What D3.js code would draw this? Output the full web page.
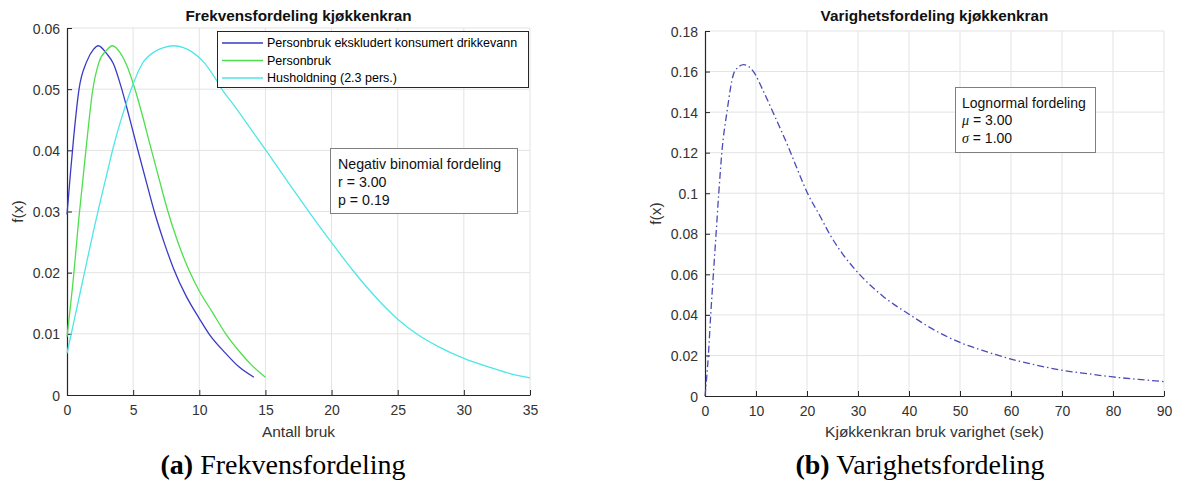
<!DOCTYPE html>
<html>
<head>
<meta charset="utf-8">
<script src="https://cdn.jsdelivr.net/npm/d3@7"></script>
<style>
  html, body { margin: 0; padding: 0; background: #fff; }
  svg { display: block; }
  text { font-family: "Liberation Sans", Arial, sans-serif; }
</style>
</head>
<body>
<svg id="chart" width="1179" height="483"></svg>
<script>
// ---------- Data ----------
// Left panel: Frekvensfordeling kjøkkenkran
const freqTitle = "Frekvensfordeling kjøkkenkran";
const freqXLabel = "Antall bruk";
const freqXTicks = [0, 5, 10, 15, 20, 25, 30, 35];
const freqYTicks = [0, 0.01, 0.02, 0.03, 0.04, 0.05, 0.06];
const freqSeriesNames = ["Personbruk ekskludert konsumert drikkevann", "Personbruk", "Husholdning (2.3 pers.)"];

const personbrukEkskl = [
  [0, 0.0295], [0.25, 0.036], [0.5, 0.042], [0.91, 0.05], [1.49, 0.0545], [2.0, 0.0565],
  [2.37, 0.0571], [3.0, 0.0558], [3.5, 0.0542], [4.14, 0.05], [4.7, 0.0455], [5.3, 0.0405],
  [6.0, 0.0348], [6.6, 0.03], [7.3, 0.0252], [8.05, 0.0207], [9.0, 0.0162], [10.0, 0.0125],
  [10.73, 0.01], [12.0, 0.0068], [13.0, 0.0046], [14.13, 0.0029]
];
const personbruk = [
  [0, 0.0095], [0.5, 0.0195], [0.9, 0.029], [1.5, 0.0415], [1.92, 0.0495], [2.4, 0.0543],
  [3.0, 0.0564], [3.43, 0.0571], [4.0, 0.056], [4.5, 0.054], [5.15, 0.0499], [5.7, 0.0457],
  [6.29, 0.0408], [7.0, 0.035], [7.63, 0.03], [8.3, 0.0255], [9.2, 0.0205], [10.0, 0.017],
  [11.0, 0.0135], [12.0, 0.01], [13.0, 0.0072], [14.0, 0.0048], [15.0, 0.0029]
];
const husholdning = [
  [0, 0.0068], [0.5, 0.0118], [1.0, 0.0168], [1.5, 0.0218], [2.0, 0.0268], [2.5, 0.0315],
  [3.0, 0.036], [3.5, 0.0405], [4.2, 0.0458], [4.85, 0.05], [5.7, 0.0542], [6.67, 0.0562],
  [7.3, 0.0568], [8.06, 0.0571], [8.8, 0.0568], [9.44, 0.0561], [10.3, 0.0545], [11.2, 0.0518],
  [11.7, 0.05], [12.5, 0.0477], [13.5, 0.0447], [15.0, 0.0401], [16.0, 0.037], [17.0, 0.0339],
  [18.4, 0.0296], [20.0, 0.0249], [21.6, 0.0204], [23.0, 0.0168], [25.0, 0.0124], [26.5, 0.0099],
  [28.0, 0.008], [30.0, 0.006], [32.0, 0.0045], [33.5, 0.0035], [35.0, 0.0028]
];
const freqBoxLines = ["Negativ binomial fordeling", "r = 3.00", "p = 0.19"];

// Right panel: Varighetsfordeling kjøkkenkran
const durTitle = "Varighetsfordeling kjøkkenkran";
const durXLabel = "Kjøkkenkran bruk varighet (sek)";
const durXTicks = [0, 10, 20, 30, 40, 50, 60, 70, 80, 90];
const durYTicks = [0, 0.02, 0.04, 0.06, 0.08, 0.1, 0.12, 0.14, 0.16, 0.18];
const lognormal = [
  [0, 0], [0.66, 0.02], [1.12, 0.04], [1.64, 0.06], [2.17, 0.08], [2.7, 0.1], [3.3, 0.12],
  [4.3, 0.14], [5.8, 0.16], [7.57, 0.1634], [9.5, 0.16], [11.5, 0.15], [13.5, 0.139],
  [16.8, 0.12], [18.4, 0.11], [20.1, 0.1], [22.5, 0.089], [24.4, 0.08], [27.0, 0.07],
  [30.3, 0.06], [35.0, 0.049], [40.2, 0.04], [45.0, 0.0325], [50.0, 0.0264], [55.0, 0.022],
  [60.0, 0.0182], [65.0, 0.0152], [70.0, 0.0127], [75.0, 0.011], [80.0, 0.0094],
  [85.0, 0.0082], [90.0, 0.0071]
];
const durBoxLines = [["", "Lognormal fordeling"], ["μ", " = 3.00"], ["σ", " = 1.00"]];

const captions = [["(a)", " Frekvensfordeling"], ["(b)", " Varighetsfordeling"]];

// ---------- Drawing ----------
const svg = d3.select("#chart");
const axisColor = "#262626";
const gridColor = "#e3e3e3";
const fmt = d => d === 0 ? "0" : String(+d.toFixed(2));

function panel(opt) {
  const x = d3.scaleLinear().domain(opt.xDomain).range([opt.left, opt.right]);
  const y = d3.scaleLinear().domain(opt.yDomain).range([opt.bottom, opt.top]);
  const g = svg.append("g");

  // grid
  g.append("g").selectAll("line").data(opt.xTicks.filter(d => d !== opt.xDomain[0])).join("line")
    .attr("x1", d => x(d)).attr("x2", d => x(d)).attr("y1", opt.top).attr("y2", opt.bottom)
    .attr("stroke", gridColor).attr("stroke-width", 1);
  g.append("g").selectAll("line").data(opt.yTicks.filter(d => d !== opt.yDomain[0])).join("line")
    .attr("x1", opt.left).attr("x2", opt.right).attr("y1", d => y(d)).attr("y2", d => y(d))
    .attr("stroke", gridColor).attr("stroke-width", 1);

  // axes
  const xAxis = d3.axisBottom(x).tickValues(opt.xTicks).tickFormat(fmt).tickSizeInner(-5).tickSizeOuter(0).tickPadding(10);
  const yAxis = d3.axisLeft(y).tickValues(opt.yTicks).tickFormat(fmt).tickSizeInner(-5).tickSizeOuter(0).tickPadding(7);
  const gx = g.append("g").attr("transform", `translate(0,${opt.bottom})`).call(xAxis);
  const gy = g.append("g").attr("transform", `translate(${opt.left},0)`).call(yAxis);
  [gx, gy].forEach(a => {
    a.selectAll("path, line").attr("stroke", axisColor);
    a.select("path.domain").attr("stroke-width", 1.2);
    a.selectAll("text").attr("fill", "#333").style("font-size", "14px")
      .style("font-family", '"Liberation Sans", Arial, sans-serif');
  });
  gy.selectAll(".tick text").attr("dy", "0.36em");

  // labels
  const cx = (opt.left + opt.right) / 2;
  g.append("text").attr("x", cx).attr("y", 20.5).attr("text-anchor", "middle")
    .style("font-size", "15.3px").style("font-weight", "bold").attr("fill", "#111").text(opt.title);
  g.append("text").attr("x", cx).attr("y", 437).attr("text-anchor", "middle")
    .style("font-size", "15.5px").attr("fill", "#333").text(opt.xLabel);
  g.append("text").attr("transform", `translate(${opt.left - 44},${(opt.top + opt.bottom) / 2}) rotate(-90)`)
    .attr("text-anchor", "middle").style("font-size", "15.5px").attr("fill", "#333").text("f(x)");

  return { x, y, g, cx };
}

// Left panel
const P1 = panel({
  left: 67, right: 530, top: 28, bottom: 395,
  xDomain: [0, 35], yDomain: [0, 0.06],
  xTicks: freqXTicks, yTicks: freqYTicks,
  title: freqTitle, xLabel: freqXLabel
});
const line1 = d3.line().curve(d3.curveMonotoneX).x(d => P1.x(d[0])).y(d => P1.y(d[1]));
const freqColors = ["#3a3ac6", "#4ddf4d", "#4fe6e6"];
[personbrukEkskl, personbruk, husholdning].forEach((s, i) => {
  P1.g.append("path").datum(s).attr("d", line1).attr("fill", "none")
    .attr("stroke", freqColors[i]).attr("stroke-width", 1.3);
});

// legend
const leg = P1.g.append("g");
leg.append("rect").attr("x", 217.5).attr("y", 31.5).attr("width", 311).attr("height", 56)
  .attr("fill", "#fff").attr("stroke", "#262626").attr("stroke-width", 1);
freqSeriesNames.forEach((n, i) => {
  const yy = 43 + i * 17.5;
  leg.append("line").attr("x1", 222).attr("x2", 263).attr("y1", yy).attr("y2", yy)
    .attr("stroke", freqColors[i]).attr("stroke-width", 1.3);
  leg.append("text").attr("x", 267).attr("y", yy).attr("dy", "0.35em")
    .style("font-size", "12.5px").attr("fill", "#000").text(n);
});

// annotation box
const ab = P1.g.append("g");
ab.append("rect").attr("x", 330.5).attr("y", 148.5).attr("width", 187).attr("height", 65)
  .attr("fill", "#fff").attr("stroke", "#7f7f7f").attr("stroke-width", 1);
freqBoxLines.forEach((t, i) => {
  ab.append("text").attr("x", 338).attr("y", 164 + i * 18).attr("dy", "0.35em")
    .style("font-size", "14.2px").attr("fill", "#111").text(t);
});

// Right panel
const P2 = panel({
  left: 705, right: 1164, top: 31, bottom: 396,
  xDomain: [0, 90], yDomain: [0, 0.18],
  xTicks: durXTicks, yTicks: durYTicks,
  title: durTitle, xLabel: durXLabel
});
const line2 = d3.line().curve(d3.curveMonotoneX).x(d => P2.x(d[0])).y(d => P2.y(d[1]));
P2.g.append("path").datum(lognormal).attr("d", line2).attr("fill", "none")
  .attr("stroke", "#4a4ab8").attr("stroke-width", 1.3).attr("stroke-dasharray", "7,3,1.5,3");

const ab2 = P2.g.append("g");
ab2.append("rect").attr("x", 955.5).attr("y", 87.5).attr("width", 140).attr("height", 65)
  .attr("fill", "#fff").attr("stroke", "#7f7f7f").attr("stroke-width", 1);
durBoxLines.forEach((t, i) => {
  const tx = ab2.append("text").attr("x", 962).attr("y", 103 + i * 17.5).attr("dy", "0.35em")
    .style("font-size", "14px").attr("fill", "#111");
  if (t[0]) tx.append("tspan").style("font-style", "italic").style("font-family", '"Liberation Serif", serif').text(t[0]);
  tx.append("tspan").text(t[1]);
});

// captions (centred under each sub-figure)
const capTexts = [283, 920].map((cx, i) => {
  const t = svg.append("text").attr("x", cx).attr("y", 474).attr("text-anchor", "middle")
    .style("font-family", '"Liberation Serif", "DejaVu Serif", serif').style("font-size", "20px").attr("fill", "#000");
  t.append("tspan").style("font-weight", "bold").text(captions[i][0]);
  t.append("tspan").text(captions[i][1]);
  return t;
});
// size the caption font so caption (a) is about 251px wide, as in the reference
const w0 = capTexts[0].node().getComputedTextLength();
const capSize = Math.max(16, Math.min(28, 20 * 251 / (w0 || 251)));
capTexts.forEach(t => t.style("font-size", capSize + "px"));
</script>
</body>
</html>
